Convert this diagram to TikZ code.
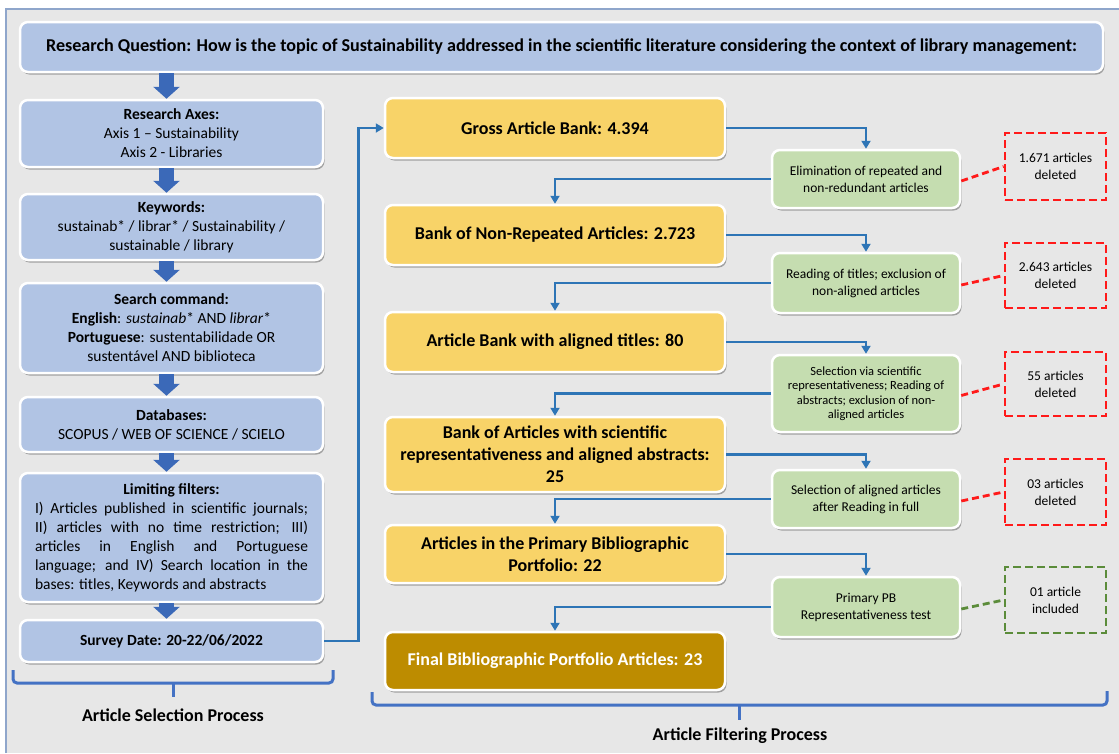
\documentclass[tikz,border=0pt]{standalone}
\usepackage{fontspec}
\setmainfont{Carlito}
\usetikzlibrary{arrows.meta,shadows}
\definecolor{bggray}{HTML}{E7E7E7}
\definecolor{framecol}{HTML}{8FA6CB}
\definecolor{boxblue}{HTML}{B1C4E4}
\definecolor{boxyellow}{HTML}{F8D368}
\definecolor{boxgold}{HTML}{BD8C00}
\definecolor{boxgreen}{HTML}{C5DDB0}
\definecolor{connblue}{HTML}{2E75B6}
\definecolor{arrblue}{HTML}{3B69B8}
\definecolor{braceblue}{HTML}{4472C4}
\definecolor{delred}{HTML}{FF1A1A}
\definecolor{incgreen}{HTML}{5B8C3A}

\begin{document}
\begin{tikzpicture}[x=1pt,y=-1pt,>={Triangle[width=9pt,length=8pt]},
  box/.style={draw=white,line width=2.5pt,rounded corners=8pt,inner sep=2pt,align=center,
    drop shadow={shadow xshift=1.5pt,shadow yshift=-2.5pt,opacity=0.3,fill=black}},
  bluebox/.style={box,fill=boxblue,minimum width=303pt,font=\fontsize{15.5}{19}\selectfont},
  yellowbox/.style={box,fill=boxyellow,minimum width=340pt,font=\bfseries\fontsize{18}{22}\selectfont},
  greenbox/.style={box,fill=boxgreen,minimum width=188pt,font=\fontsize{13.5}{17}\selectfont},
  countbox/.style={draw,dash pattern=on 8pt off 4pt,line width=2.8pt,minimum width=101pt,
    align=center,font=\fontsize{13.5}{17}\selectfont},
  blockarr/.style={draw=arrblue,line width=15pt,-{Triangle[width=26pt,length=12pt]}},
  conn/.style={draw=connblue,line width=2.6pt,->},
  countconn/.style={dash pattern=on 7pt off 4pt,line width=2.8pt},
  brace/.style={draw=braceblue,line width=3pt,rounded corners=4pt},
  proclabel/.style={font=\bfseries\fontsize{18}{22}\selectfont}]
\useasboundingbox (0,0) rectangle (1119,753);
% ---------- background ----------
\fill[white] (0,0) rectangle (1119,753);
\fill[bggray] (6,9) rectangle (1119,753);
\draw[framecol,line width=2pt] (6,753) -- (6,9) -- (1119,9);
% ---------- research question ----------
\node[box,fill=boxblue,minimum width=1083pt,minimum height=50pt,
  font=\bfseries\fontsize{18.1}{21}\selectfont] (question) at (561.5,47)
  {Research Question: How is the topic of Sustainability addressed in the scientific literature considering the context of library management:};
% ---------- selection column ----------
\node[bluebox,minimum height=67pt] (axes) at (171.5,133.5)
  {\textbf{Research Axes:}\\ Axis 1 -- Sustainability\\ Axis 2 - Libraries};
\node[bluebox,minimum height=66pt] (keywords) at (171.5,227)
  {\textbf{Keywords:}\\ sustainab* / librar* / Sustainability /\\ sustainable / library};
\node[bluebox,minimum height=90pt] (search) at (171.5,328)
  {\textbf{Search command:}\\ \textbf{English}: \textit{sustainab}* AND \textit{librar}*\\
   \textbf{Portuguese}: sustentabilidade OR\\ sustentável AND biblioteca};
\node[bluebox,minimum height=55pt] (databases) at (171.5,424.5)
  {\textbf{Databases:}\\ SCOPUS / WEB OF SCIENCE / SCIELO};
\node[bluebox,minimum height=129pt,text width=273pt,align=justify] (filters) at (171.5,537.5)
  {{\centering\textbf{Limiting filters:}\par}
   I) Articles published in scientific journals;\linebreak
   II) articles with no time restriction; III)\linebreak
   articles in English and Portuguese\linebreak
   language; and IV) Search location in the\linebreak
   bases: titles, Keywords and abstracts};
\node[bluebox,minimum height=42pt,font=\bfseries\fontsize{15.5}{19}\selectfont] (survey) at (171.5,641)
  {Survey Date: 20-22/06/2022};
\draw[blockarr] ([xshift=-5pt]axes.north |- question.south) -- ([xshift=-5pt]axes.north);
\draw[blockarr] ([xshift=-5pt]axes.south) -- ([xshift=-5pt]keywords.north);
\draw[blockarr] ([xshift=-5pt]keywords.south) -- ([xshift=-5pt]search.north);
\draw[blockarr] ([xshift=-5pt]search.south) -- ([xshift=-5pt]databases.north);
\draw[blockarr] ([xshift=-5pt]databases.south) -- ([xshift=-5pt]filters.north);
\draw[blockarr] ([xshift=-5pt]filters.south) -- ([xshift=-5pt]survey.north);
% ---------- filtering column ----------
\node[yellowbox,minimum height=60pt] (gross) at (555,128) {Gross Article Bank: 4.394};
\node[yellowbox,minimum height=60pt] (nonrep) at (555,235) {Bank of Non-Repeated Articles: 2.723};
\node[yellowbox,minimum height=60pt] (titles) at (555,342) {Article Bank with aligned titles: 80};
\node[yellowbox,minimum height=75pt] (sci) at (555,454.5)
  {Bank of Articles with scientific\\ representativeness and aligned abstracts:\\ 25};
\node[yellowbox,minimum height=58pt] (primary) at (555,554)
  {Articles in the Primary Bibliographic\\ Portfolio: 22};
\node[yellowbox,fill=boxgold,text=white,minimum height=58pt] (final) at (555,661)
  {Final Bibliographic Portfolio Articles: 23};
% ---------- filtering steps ----------
\node[greenbox,minimum height=58pt] (elim) at (866,179)
  {Elimination of repeated and\\ non-redundant articles};
\node[greenbox,minimum height=60pt] (readtitles) at (866,283)
  {Reading of titles; exclusion of\\ non-aligned articles};
\node[greenbox,minimum height=77pt,font=\fontsize{12.5}{14.5}\selectfont] (selsci) at (866,393.5)
  {Selection via scientific\\ representativeness; Reading of\\ abstracts; exclusion of non-\\ aligned articles};
\node[greenbox,minimum height=58pt] (selfull) at (866,499)
  {Selection of aligned articles\\ after Reading in full};
\node[greenbox,minimum height=60pt] (reptest) at (866,607)
  {Primary PB\\ Representativeness test};
% ---------- counts ----------
\node[countbox,delred,text=black,minimum height=67pt] (del1) at (1055.5,166.5) {1.671 articles\\ deleted};
\node[countbox,delred,text=black,minimum height=65pt] (del2) at (1055.5,275.5) {2.643 articles\\ deleted};
\node[countbox,delred,text=black,minimum height=64pt] (del3) at (1055.5,384) {55 articles\\ deleted};
\node[countbox,delred,text=black,minimum height=66pt] (del4) at (1055.5,492) {03 articles\\ deleted};
\node[countbox,incgreen,text=black,minimum height=66pt] (inc5) at (1055.5,600) {01 article\\ included};
% ---------- connectors ----------
\draw[conn] (survey.east) -- ++(34,0) |- (gross.west);
\draw[conn] (gross.east) -| (elim.north);
\draw[conn] (elim.west) -| (nonrep.north);
\draw[conn] (nonrep.east) -| (readtitles.north);
\draw[conn] (readtitles.west) -| (titles.north);
\draw[conn] (titles.east) -| (selsci.north);
\draw[conn] (selsci.west) -| (sci.north);
\draw[conn] (sci.east) -| (selfull.north);
\draw[conn] (selfull.west) -| (primary.north);
\draw[conn] (primary.east) -| (reptest.north);
\draw[conn] (reptest.west) -| (final.north);
\draw[countconn,delred] ([yshift=-2pt]elim.east) -- (del1.west);
\draw[countconn,delred] ([yshift=-2pt]readtitles.east) -- (del2.west);
\draw[countconn,delred] ([yshift=-2pt]selsci.east) -- (del3.west);
\draw[countconn,delred] ([yshift=-2pt]selfull.east) -- (del4.west);
\draw[countconn,incgreen] ([yshift=-2pt]reptest.east) -- (inc5.west);
% ---------- braces ----------
\draw[brace] (13,670) -- (13,683) -- (333,683) -- (333,670);
\draw[brace] (173,683) -- (173,697);
\node[proclabel] (selproc) at (173,715) {Article Selection Process};
\draw[brace] (372,692) -- (372,705) -- (1107,705) -- (1107,691);
\draw[brace] (739,705) -- (739,720);
\node[proclabel] (filtproc) at (740,736) {Article Filtering Process};
\end{tikzpicture}
\end{document}
